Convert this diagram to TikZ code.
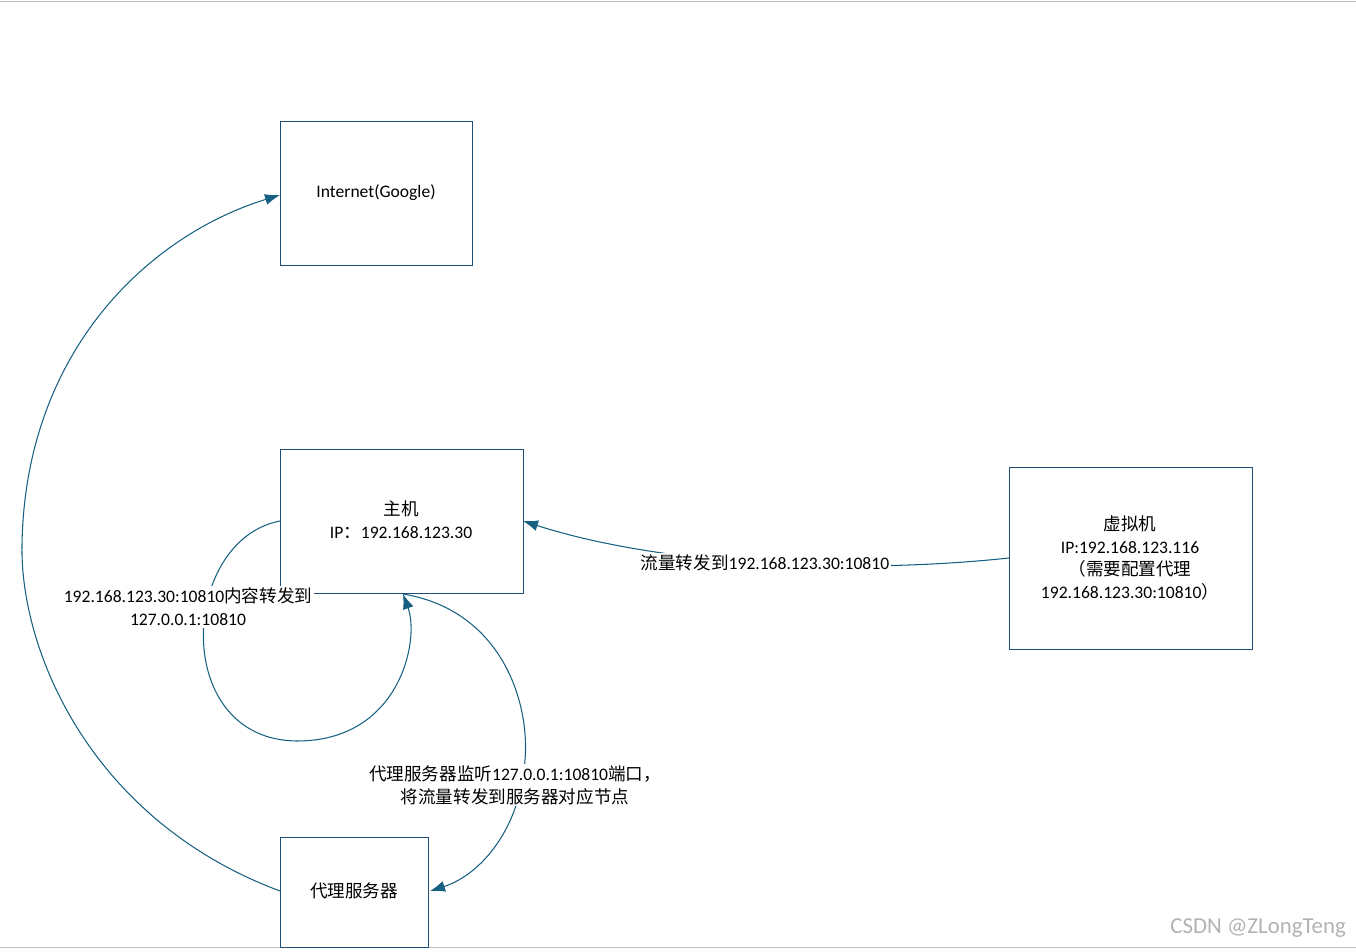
\documentclass[tikz,border=0pt]{standalone}
\usepackage{fontspec}
\setmainfont{Carlito}
\newfontfamily\zh{Noto Sans CJK SC}
\usetikzlibrary{arrows.meta}
\definecolor{lineBlue}{RGB}{31,78,121}
\definecolor{arrowBlue}{RGB}{22,96,130}

\begin{document}
\begin{tikzpicture}[x=0.02cm, y=-0.02cm,
	box/.style={draw=lineBlue, thin},
	conn/.style={draw=arrowBlue, semithick, -{Latex[length=3mm, width=2.2mm]}},
	lbl/.style={fill=white, inner sep=1pt, align=center, font=\fontsize{10}{13}\selectfont}]

	\useasboundingbox (0,0) rectangle (1356,952);
	\draw[gray!50] (0,1) -- (1356,1);
	\draw[gray!50] (0,947) -- (1356,947);

	% boxes
	\draw[box] (280,121) rectangle (472,265);
	\draw[box] (280,449) rectangle (523,593);
	\draw[box] (1009,467) rectangle (1252,649);
	\draw[box] (280,837) rectangle (428,947);
	\coordinate (inet) at (280,195);
	\coordinate (hostR) at (523,521);
	\coordinate (hostL) at (280,521);
	\coordinate (hostB) at (403,594);
	\coordinate (vmL) at (1009,558);
	\coordinate (proxyL) at (280,891);
	\coordinate (proxyR) at (430,891);

	\node[lbl, fill=none] (inetText) at (376,193) {Internet(Google)};
	\node[lbl, fill=none] (hostText) at (401,520) {{\zh 主机}\\IP{\zh ：}192.168.123.30};
	\node[lbl, fill=none] (vmText) at (1130,558) {{\zh 虚拟机}\\IP:192.168.123.116\\{\zh （需要配置代理}\\192.168.123.30:10810{\zh ）}};
	\node[lbl, fill=none] (proxyText) at (354,891) {\zh 代理服务器};

	% connectors
	\draw[conn] (vmL) .. controls (850,575) and (660,565) .. (hostR);
	\draw[conn] (hostL) .. controls (180,540) and (170,740) .. (297,741)
		.. controls (400,741) and (420,640) .. (hostB);
	\draw[conn] (hostB) .. controls (500,610) and (530,700) .. (525,760)
		.. controls (520,830) and (480,875) .. (proxyR);
	\draw[conn] (proxyL) .. controls (90,820) and (20,650) .. (22,545)
		.. controls (25,350) and (150,235) .. (inet);

	% labels
	\node[lbl] (vmLbl) at (765,563) {{\zh 流量转发到}192.168.123.30:10810};
	\node[lbl] (loopLbl) at (188,607) {192.168.123.30:10810{\zh 内容转发到}\\127.0.0.1:10810};
	\node[lbl] (proxyLbl) at (515,785) {{\zh 代理服务器监听}127.0.0.1:10810{\zh 端口，}\\{\zh 将流量转发到服务器对应节点}};

	\node[text=gray!60, font=\fontsize{13}{15}\selectfont, anchor=east] (mark) at (1352,928) {CSDN @ZLongTeng};
\end{tikzpicture}
\end{document}
